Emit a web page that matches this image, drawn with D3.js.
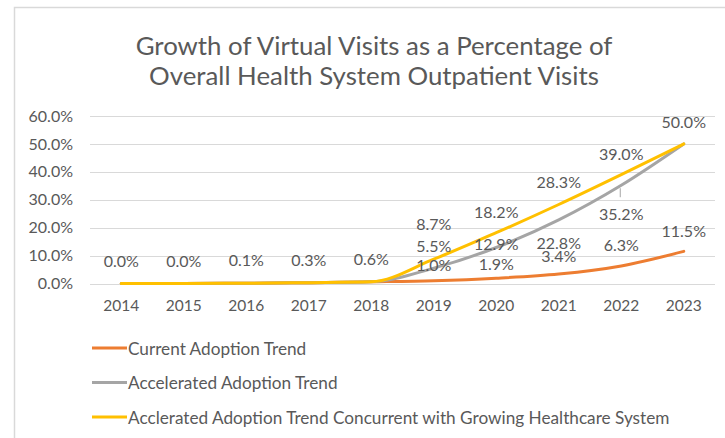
<!DOCTYPE html>
<html>
<head>
<meta charset="utf-8">
<script src="https://cdn.jsdelivr.net/npm/d3@7"></script>
<style>
  html, body { margin: 0; padding: 0; background: #fff; }
  svg { display: block; }
  text { font-family: Lato, "Open Sans", sans-serif; fill: #595959; }
</style>
</head>
<body>
<svg id="chart" width="725" height="438"></svg>
<script>
const years = ["2014","2015","2016","2017","2018","2019","2020","2021","2022","2023"];
const currentTrend = [0.0, 0.0, 0.1, 0.3, 0.6, 1.0, 1.9, 3.4, 6.3, 11.5];
const acceleratedTrend = [0.0, 0.0, 0.1, 0.3, 0.6, 5.5, 12.9, 22.8, 35.2, 50.0];
const concurrentTrend = [0.0, 0.0, 0.1, 0.3, 0.6, 8.7, 18.2, 28.3, 39.0, 50.0];
const yTicks = [0, 10, 20, 30, 40, 50, 60];
const seriesNames = [
  "Current Adoption Trend",
  "Accelerated Adoption Trend",
  "Acclerated Adoption Trend Concurrent with Growing Healthcare System"
];
const titleLines = [
  "Growth of Virtual Visits as a Percentage of",
  "Overall Health System Outpatient Visits"
];

// styling / label placement (not data)
const colors = ["#ED7D31", "#A5A5A5", "#FFC000"];
const labelDy = [
  [null, null, null, null, null, -16, -15, -19, -21, -21],
  [null, null, null, null, null, -23, -3.5, 23, 28, null],
  [-23.5, -23.5, -23.5, -23.5, -23.5, -36, -21, -22.5, -21.6, -22]
];

const series = [currentTrend, acceleratedTrend, concurrentTrend];

const svg = d3.select("#chart");

// outer border
svg.append("path")
  .attr("d", "M14.5,438 L14.5,7.5 L725,7.5")
  .attr("fill", "none").attr("stroke", "#d9d9d9").attr("stroke-width", 1.5);

// title (sized so first line spans the reference width)
const title = svg.append("g");
const titleTexts = titleLines.map((t, i) => title.append("text")
    .attr("x", 374).attr("y", 45 + i * 30)
    .attr("text-anchor", "middle").attr("dominant-baseline", "central")
    .style("font-size", "22px")
    .text(t));
const w0 = titleTexts[0].node().getComputedTextLength();
const titleSize = Math.min(26, 22 * 477 / w0);
titleTexts.forEach(t => t.style("font-size", titleSize + "px"));

const x = d3.scaleBand().domain(years).range([90, 715]);
const cx = d => x(d) + x.bandwidth() / 2;
const y = d3.scaleLinear().domain([0, 60]).range([283.5, 116]);

// gridlines
svg.append("g").selectAll("line").data(yTicks).join("line")
  .attr("x1", 90).attr("x2", 715)
  .attr("y1", d => Math.round(y(d)) + 0.5).attr("y2", d => Math.round(y(d)) + 0.5)
  .attr("stroke", "#d9d9d9").attr("stroke-width", 1);

// y axis labels
const yAxis = d3.axisLeft(y).tickValues(yTicks).tickSize(0).tickPadding(0)
  .tickFormat(d => d.toFixed(1) + "%");
const ya = svg.append("g").attr("transform", "translate(73,0)").call(yAxis);
ya.select(".domain").remove();
ya.selectAll("text").style("font-size", "16px").style("fill", "#595959")
  .style("font-family", "Lato, 'Open Sans', sans-serif");

// x axis labels
const xAxis = d3.axisBottom(x).tickSize(0).tickPadding(0);
const xa = svg.append("g").attr("transform", "translate(0,300)").call(xAxis);
xa.select(".domain").remove();
xa.selectAll("text").style("font-size", "15.5px").style("fill", "#595959")
  .style("font-family", "Lato, 'Open Sans', sans-serif");

// lines
const line = d3.line()
  .x((d, i) => cx(years[i]))
  .y(d => y(d))
  .curve(d3.curveMonotoneX);

series.forEach((s, k) => {
  svg.append("path")
    .datum(s)
    .attr("d", line)
    .attr("fill", "none")
    .attr("stroke", colors[k])
    .attr("stroke-width", 3)
    .attr("stroke-linecap", "round")
    .attr("stroke-linejoin", "round");
});

// leader line for 35.2% label
svg.append("line")
  .attr("x1", cx("2022") - 1).attr("x2", cx("2022") - 1)
  .attr("y1", y(acceleratedTrend[8]) + 3).attr("y2", y(acceleratedTrend[8]) + 12)
  .attr("stroke", "#A5A5A5").attr("stroke-width", 1);

// data labels
series.forEach((s, k) => {
  svg.append("g").selectAll("text")
    .data(s.map((v, i) => ({ v, i, dy: labelDy[k][i] })).filter(d => d.dy !== null))
    .join("text")
    .attr("x", d => cx(years[d.i]))
    .attr("y", d => y(d.v) + d.dy)
    .attr("text-anchor", "middle")
    .attr("dominant-baseline", "central")
    .style("font-size", "16px")
    .text(d => d.v.toFixed(1) + "%");
});

// legend
const legend = svg.append("g");
seriesNames.forEach((n, k) => {
  const ly = 348 + k * 34.5;
  legend.append("line")
    .attr("x1", 92).attr("x2", 127).attr("y1", ly).attr("y2", ly)
    .attr("stroke", colors[k]).attr("stroke-width", 3);
  legend.append("text")
    .attr("x", 128).attr("y", ly)
    .attr("dominant-baseline", "central")
    .style("font-size", "17.2px")
    .text(n);
});
</script>
</body>
</html>
